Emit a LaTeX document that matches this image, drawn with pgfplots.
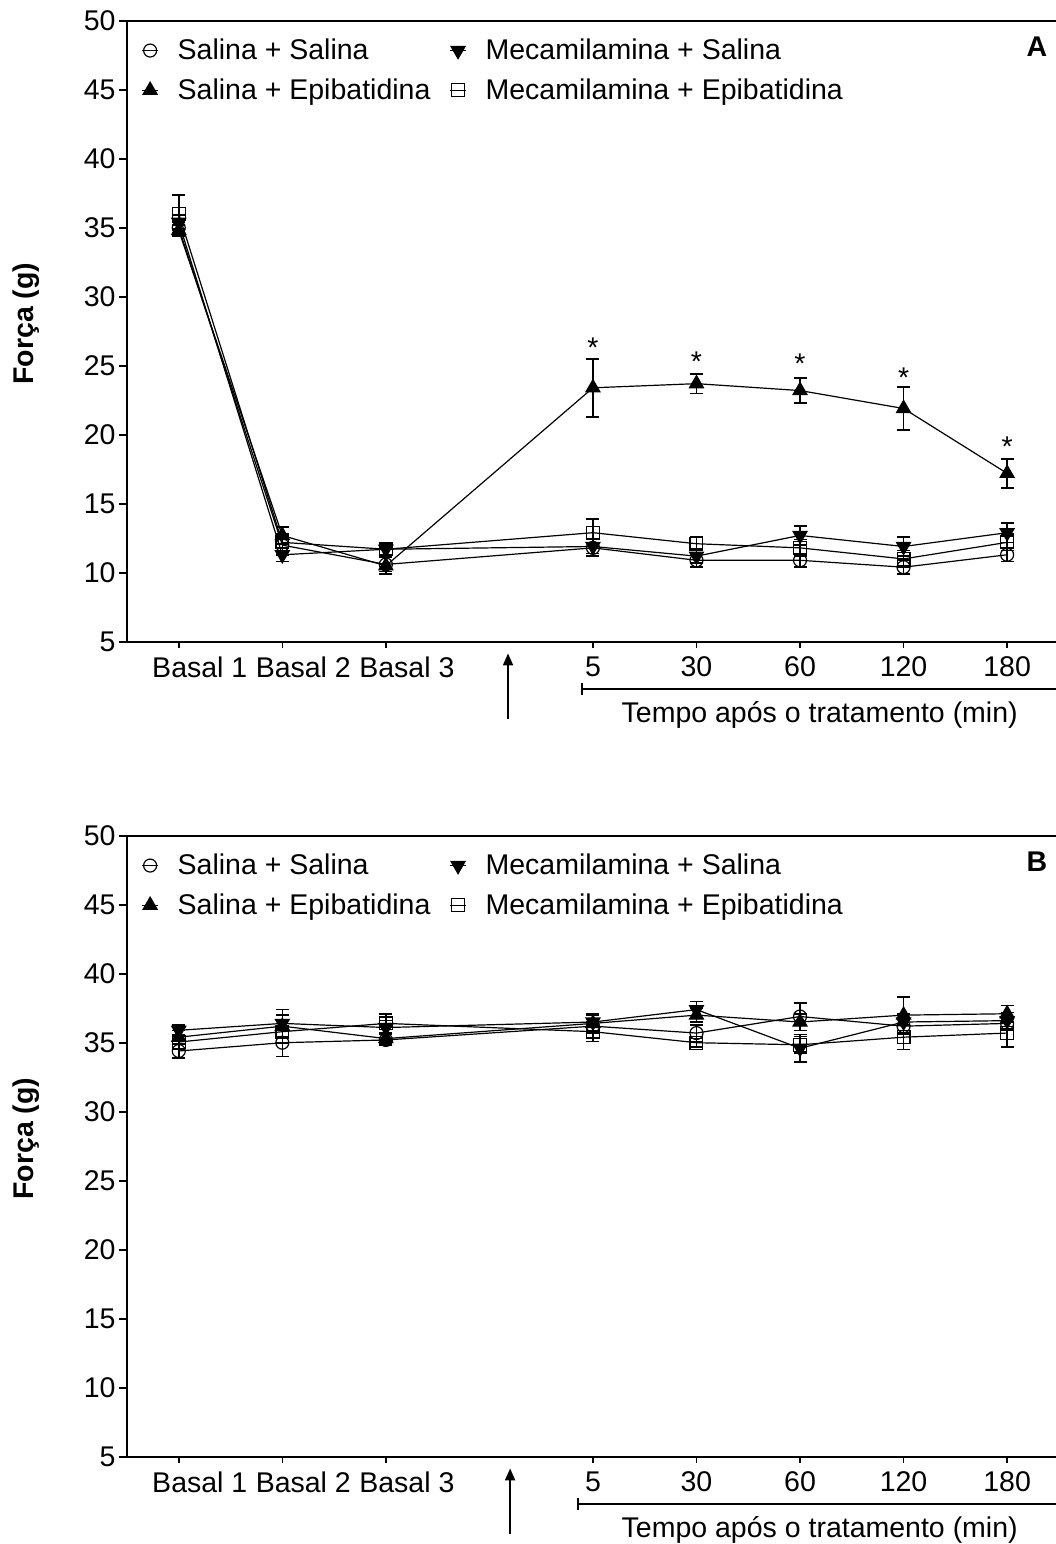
\documentclass[border=0pt]{standalone}
\usepackage{fontspec}
\setmainfont{Liberation Sans}
\usepackage{pgfplots}
\pgfplotsset{compat=1.18}
\usetikzlibrary{arrows.meta}
\newcommand{\fs}{\fontsize{14.25pt}{17pt}\selectfont}

\pgfplotstableread{
x y e
0 35.0 0.4
1 12.0 0.7
2 10.6 0.5
4 11.8 0.6
5 10.9 0.5
6 10.9 0.5
7 10.4 0.5
8 11.3 0.5
}\ASS
\pgfplotstableread{
x y e
0 34.8 0.4
1 12.7 0.6
2 10.5 0.6
4 23.4 2.1
5 23.7 0.7
6 23.2 0.9
7 21.9 1.55
8 17.2 1.05
}\ASE
\pgfplotstableread{
x y e
0 35.4 0.5
1 11.3 0.5
2 11.7 0.4
4 11.9 0.5
5 11.2 0.5
6 12.7 0.7
7 11.9 0.7
8 12.9 0.7
}\AMS
\pgfplotstableread{
x y e
0 36.0 1.35
1 12.2 0.6
2 11.7 0.5
4 12.9 1.0
5 12.1 0.5
6 11.8 0.6
7 11.0 0.6
8 12.2 0.6
}\AME

\pgfplotstableread{
x y e
0 34.4 0.5
1 35.0 1.0
2 35.2 0.4
4 36.2 0.5
5 35.7 0.6
6 36.9 1.0
7 36.2 0.6
8 36.4 0.5
}\BSS
\pgfplotstableread{
x y e
0 35.4 0.5
1 36.2 0.8
2 35.3 0.4
4 36.4 0.6
5 37.0 0.5
6 36.5 0.6
7 37.0 1.3
8 37.1 0.6
}\BSE
\pgfplotstableread{
x y e
0 35.9 0.4
1 36.4 1.0
2 36.1 0.5
4 36.5 0.6
5 37.4 0.6
6 34.6 1.0
7 36.5 0.6
8 36.6 0.6
}\BMS
\pgfplotstableread{
x y e
0 35.05 0.5
1 35.8 0.8
2 36.4 0.7
4 35.8 0.7
5 35.0 0.3
6 34.85 0.6
7 35.4 0.9
8 35.7 1.0
}\BME

\pgfplotsset{
  panel/.style={
    scale only axis, width=465.95pt, height=310.5pt,
    xmin=-0.5, xmax=8.5, ymin=5, ymax=50,
    axis x line*=bottom, axis y line*=left,
    axis line style={line width=1pt, -},
    ytick={5,10,...,50},
    xtick={0,1,2,4,5,6,7,8},
    xticklabels={\hspace*{21pt}Basal 1,\hspace*{21pt}Basal 2,\hspace*{21pt}Basal 3,5,30,60,120,180},
    tick align=outside,
    major tick length=4pt,
    xtick style={/pgfplots/major tick length=3pt},
    tick style={line width=0.8pt, black},
    /pgf/number format/assume math mode=true,
    ticklabel style={font=\fs},
    yticklabel style={inner sep=1.5pt},
    clip=false,
    ylabel={Força (g)},
    ylabel style={at={(axis description cs:-0.108,0.512)}, anchor=center, font=\fs\bfseries},
    legend columns=2,
    legend cell align=left,
    legend style={draw=none, fill=none, font=\fs, inner sep=0pt, outer sep=0pt,
      nodes={inner sep=0pt},
      at={(axis description cs:0.0156,0.971)}, anchor=north west,
      /tikz/every odd column/.append style={column sep=9.5pt},
      /tikz/every even column/.append style={column sep=9.5pt},
      row sep=8pt},
    legend image code/.code={\draw[mark repeat=2,mark phase=2,#1] plot coordinates {(0pt,0pt)(4pt,0pt)(8pt,0pt)};},
  },
  base/.style={black, line width=0.6pt,
    error bars/y dir=both, error bars/y explicit, error bars/error mark=-,
    error bars/error bar style={line width=0.8pt, solid},
    error bars/error mark options={rotate=90, line width=0.8pt, mark size=3.25pt, black}},
  ss/.style={base, mark=o, mark size=3.25pt, mark options={solid, line width=0.6pt}},
  se/.style={base, mark=triangle*, mark size=4pt, mark options={solid, fill=black}},
  ms/.style={base, mark=triangle*, mark size=4pt, mark options={solid, fill=black, rotate=180}},
  me/.style={base, mark=square, mark size=3.2pt, mark options={solid, line width=0.6pt}},
}

\begin{document}
\begin{tikzpicture}
\useasboundingbox (0,0) rectangle (528pt,-772pt);

\begin{axis}[panel, at={(63.5pt,-320.85pt)}, anchor=south west]
\addplot[ss] table[x=x, y=y, y error=e] {\ASS};
\addlegendentry{Salina + Salina}
\addplot[ms] table[x=x, y=y, y error=e] {\AMS};
\addlegendentry{Mecamilamina + Salina}
\addplot[se] table[x=x, y=y, y error=e] {\ASE};
\addlegendentry{Salina + Epibatidina}
\addplot[me] table[x=x, y=y, y error=e] {\AME};
\addlegendentry{Mecamilamina + Epibatidina}
\draw[line width=1pt] (rel axis cs:0,1) -- (rel axis cs:1,1);
\node[font=\fs\bfseries] at (axis description cs:0.9765,0.958) {A};
\node[font=\fs, anchor=base] at (axis cs:4,25.6) {*};
\node[font=\fs, anchor=base] at (axis cs:5,24.6) {*};
\node[font=\fs, anchor=base] at (axis cs:6,24.4) {*};
\node[font=\fs, anchor=base] at (axis cs:7,23.45) {*};
\node[font=\fs, anchor=base] at (axis cs:8,18.4) {*};
\draw[line width=1pt, -{Triangle[length=6pt,width=5pt]}] (axis cs:3.18,-0.58) -- (axis cs:3.18,4.15);
\draw[line width=1pt] (axis cs:3.894,1.59) -- (axis cs:8.5,1.59);
\draw[line width=1pt] (axis cs:3.894,1.16) -- (axis cs:3.894,2.02);
\node[font=\fs, anchor=base] at (axis cs:6.19,-0.83) {Tempo após o tratamento (min)};
\end{axis}

\begin{axis}[panel, at={(63.5pt,-728.35pt)}, anchor=south west]
\addplot[ss] table[x=x, y=y, y error=e] {\BSS};
\addlegendentry{Salina + Salina}
\addplot[ms] table[x=x, y=y, y error=e] {\BMS};
\addlegendentry{Mecamilamina + Salina}
\addplot[se] table[x=x, y=y, y error=e] {\BSE};
\addlegendentry{Salina + Epibatidina}
\addplot[me] table[x=x, y=y, y error=e] {\BME};
\addlegendentry{Mecamilamina + Epibatidina}
\draw[line width=1pt] (rel axis cs:0,1) -- (rel axis cs:1,1);
\node[font=\fs\bfseries] at (axis description cs:0.9765,0.958) {B};
\draw[line width=1pt, -{Triangle[length=6pt,width=5pt]}] (axis cs:3.20,-0.58) -- (axis cs:3.20,4.15);
\draw[line width=1pt] (axis cs:3.855,1.59) -- (axis cs:8.5,1.59);
\draw[line width=1pt] (axis cs:3.855,1.16) -- (axis cs:3.855,2.02);
\node[font=\fs, anchor=base] at (axis cs:6.19,-0.83) {Tempo após o tratamento (min)};
\end{axis}
\end{tikzpicture}
\end{document}
